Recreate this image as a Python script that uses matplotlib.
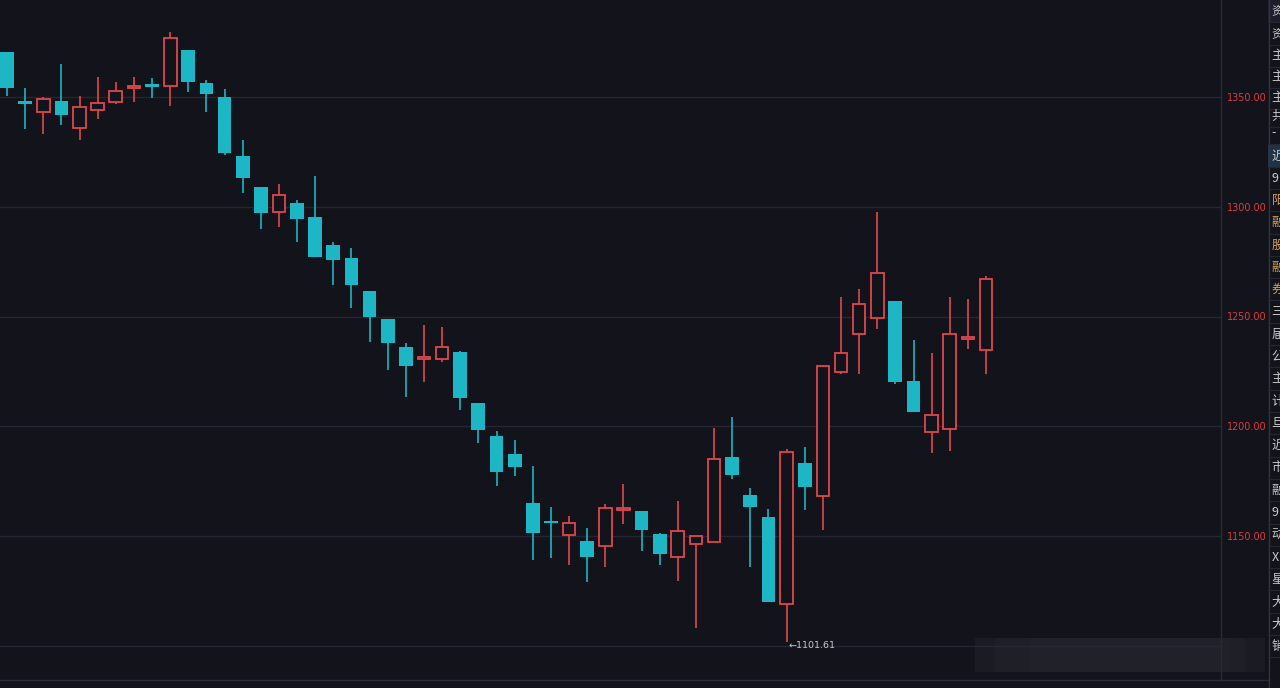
import matplotlib
matplotlib.use("Agg")
import matplotlib.pyplot as plt
import numpy as np

# ---- data ----
opens = [1370.5, 1348.2, 1343.2, 1348.2, 1335.9, 1344.1, 1347.7, 1354.1, 1355.9, 1355.0,
         1371.4, 1356.4, 1350.0, 1323.1, 1309.0, 1297.6, 1301.7, 1295.3, 1282.6, 1276.7,
         1261.6, 1248.9, 1236.1, 1230.6, 1230.6, 1233.8, 1210.6, 1195.6, 1187.4, 1165.0,
         1156.4, 1150.5, 1147.7, 1145.5, 1161.8, 1161.4, 1150.9, 1140.4, 1146.4, 1147.3,
         1186.0, 1168.7, 1158.7, 1119.0, 1183.3, 1168.2, 1224.7, 1242.0, 1249.3, 1257.1,
         1220.6, 1197.4, 1198.7, 1239.7, 1234.7]
highs = [1370.5, 1354.1, 1350.0, 1365.0, 1350.5, 1359.1, 1356.8, 1359.1, 1358.7, 1379.6,
         1371.4, 1357.7, 1353.6, 1330.4, 1309.0, 1310.4, 1303.1, 1314.0, 1283.9, 1281.2,
         1261.6, 1248.9, 1237.9, 1246.1, 1245.2, 1234.3, 1210.6, 1197.8, 1193.7, 1181.9,
         1163.2, 1159.1, 1153.6, 1164.6, 1173.7, 1161.4, 1151.4, 1166.0, 1150.0, 1199.2,
         1204.2, 1171.9, 1162.3, 1189.6, 1190.5, 1227.4, 1258.9, 1262.5, 1297.4, 1257.1,
         1239.3, 1233.4, 1258.9, 1258.0, 1268.5]
lows = [1350.5, 1335.4, 1333.1, 1337.2, 1330.4, 1340.0, 1346.8, 1347.7, 1349.5, 1345.9,
        1352.3, 1343.2, 1323.6, 1306.3, 1289.9, 1290.8, 1283.9, 1277.1, 1264.4, 1253.9,
        1238.4, 1225.6, 1213.3, 1220.2, 1229.3, 1207.4, 1192.4, 1172.8, 1177.3, 1139.1,
        1140.0, 1136.8, 1129.0, 1135.9, 1155.5, 1143.2, 1136.8, 1129.5, 1108.1, 1147.3,
        1176.0, 1135.9, 1119.9, 1101.61, 1161.8, 1152.7, 1223.8, 1223.8, 1244.3, 1219.2,
        1206.5, 1187.8, 1188.7, 1235.2, 1223.8]
closes = [1354.1, 1346.8, 1349.1, 1341.8, 1345.4, 1347.3, 1352.7, 1355.0, 1354.6, 1376.9,
          1356.8, 1351.4, 1324.5, 1313.1, 1297.2, 1305.4, 1294.4, 1277.1, 1275.7, 1264.4,
          1249.8, 1237.9, 1227.4, 1231.5, 1236.1, 1212.9, 1198.3, 1179.2, 1181.4, 1151.4,
          1155.9, 1155.9, 1140.4, 1162.8, 1162.8, 1152.7, 1141.8, 1152.3, 1150.0, 1185.1,
          1177.8, 1163.2, 1119.9, 1188.3, 1172.3, 1227.4, 1233.4, 1255.7, 1269.8, 1220.2,
          1206.5, 1205.1, 1242.0, 1240.7, 1267.1]

grid_levels = [1100, 1150, 1200, 1250, 1300, 1350]
grid_labels = ["", "1150.00", "1200.00", "1250.00", "1300.00", "1350.00"]
low_index = 43
low_label = "←1101.61"
panel_chars = ["资", "资", "主", "主", "主", "共", "-", "近", "9", "阳", "融", "股", "融",
               "券", "三", "届", "公", "主", "计", "旦", "近", "市", "融", "9", "动",
               "X", "星", "大", "大", "销"]

# ---- style ----
BG = "#13131b"
CYAN = "#1cb6c4"
RED = "#e0474c"
RED_TXT = "#e03a40"
GRID = "#262632"
LINE = "#2c2c38"

W, H = 1280, 688
fig = plt.figure(figsize=(W / 100, H / 100), dpi=100, facecolor=BG)
ax = fig.add_axes([0, 8 / H, 1221 / W, 680 / H], facecolor=BG)

o = np.array(opens)
c = np.array(closes)
hi = np.array(highs)
lo = np.array(lows)
x = np.arange(len(o))
up = c > o
dn = ~up

body_bottom = np.minimum(o, c)
body_h = np.maximum(np.abs(c - o), 0.9)
bw = 0.76

ax.vlines(x[up], lo[up], hi[up], color=RED, lw=1.2, zorder=2)
ax.vlines(x[dn], lo[dn], hi[dn], color=CYAN, lw=1.2, zorder=2)
ax.bar(x[up], body_h[up], bottom=body_bottom[up], width=bw - 0.06,
       facecolor=BG, edgecolor=RED, linewidth=1.3, zorder=3)
ax.bar(x[dn], body_h[dn], bottom=body_bottom[dn], width=bw,
       color=CYAN, linewidth=0, zorder=3)

ax.text(low_index + 0.1, lows[low_index] - 1.4, low_label, color="#c8c8cc",
        fontsize=6.8, ha="left", va="center", zorder=4)

ax.set_xlim(-7 / 18.13, (1221 - 7) / 18.13)
ax.set_ylim(1350 - 583 / 2.195, 1350 + 97 / 2.195)

ax.set_xticks([])
ax.set_yticks(grid_levels)
ax.set_yticklabels(grid_labels)
ax.yaxis.tick_right()
ax.tick_params(axis="y", length=0, pad=4, labelcolor=RED_TXT, labelsize=6.9)
ax.yaxis.grid(True, color=GRID, lw=1.0)
ax.set_axisbelow(True)
for s in ["top", "left"]:
    ax.spines[s].set_visible(False)
ax.spines["right"].set_color(LINE)
ax.spines["bottom"].set_color(LINE)
ax.spines["right"].set_linewidth(1.0)
ax.spines["bottom"].set_linewidth(1.0)

# bottom line continuing under the price scale
fig.add_artist(plt.Line2D([1221 / W, 1268 / W], [8 / H, 8 / H], color=LINE, lw=1.0))

# faint blurred watermark area at lower right
for (x0, w0, a0) in [(975, 290, 0.35), (995, 250, 0.3), (1030, 200, 0.25)]:
    fig.add_artist(plt.Rectangle((x0 / W, 16 / H), w0 / W, 34 / H, color="#2a2a32",
                                 alpha=a0, lw=0))

# right side panel (cut off at the picture edge, as in the reference)
pax = fig.add_axes([1268 / W, 0, 12 / W, 1], facecolor="#16161e")
pax.set_xlim(0, 1)
pax.set_ylim(H, 0)
pax.axis("off")
pax.add_artist(plt.Rectangle((0, 0), 1, 22, color="#1c1f2b", lw=0))
pax.add_artist(plt.Rectangle((0, 145), 1, 22, color="#1d3346", lw=0))
fig.add_artist(plt.Line2D([1268.5 / W, 1268.5 / W], [0, 1], color="#34343f", lw=1.0))
row_y = [11, 34, 56, 77, 98, 116, 133, 156]
for k in range(len(panel_chars) - len(row_y)):
    row_y.append(178 + 22.3 * k)
for ch, yy in zip(panel_chars, row_y):
    col = "#c9c9cc"
    if 190 < yy < 300:
        col = "#d6a35c"
    fig.text(1271.5 / W, 1 - yy / H, ch, color=col, fontsize=9, ha="left", va="center",
             family=["Noto Sans CJK SC", "DejaVu Sans"])
    fig.add_artist(plt.Line2D([1268 / W, 1], [1 - (yy + 11) / H] * 2, color="#262630", lw=0.8))

fig.savefig("out.png", dpi=100, facecolor=BG)
